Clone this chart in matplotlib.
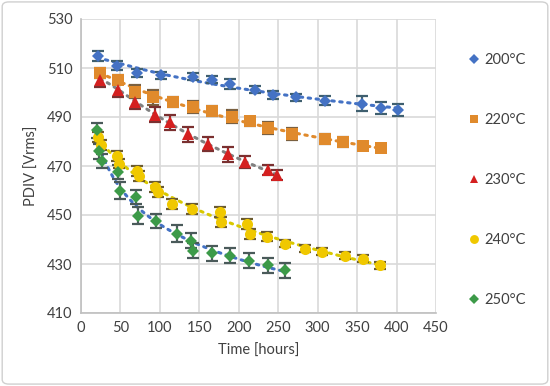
import numpy as np
import matplotlib
matplotlib.use("Agg")
import matplotlib.pyplot as plt
from matplotlib.patches import FancyBboxPatch

plt.rcParams['font.family'] = ['Lato', 'DejaVu Sans']

# ---- data ----
h200 = [21, 45, 71, 102, 142, 166, 189, 220, 243, 272, 309, 356, 380, 402]
v200 = [515, 511, 508, 507, 506.5, 505.3, 503.5, 501.2, 499, 498, 496.7, 495.5, 493.8, 493]
e200 = [2, 2, 1.5, 1.5, 1.5, 1.5, 2, 1.5, 1.5, 1.5, 2, 3, 2.5, 2.5]

h220 = [24, 47, 68, 91, 117, 142, 166, 191, 214, 237, 267, 309, 332, 357, 380]
v220 = [508, 505.3, 500.4, 498, 496, 494, 492.3, 490.2, 488.2, 485.4, 483, 481, 479.7, 478, 477.3]
e220 = [2, 2, 2.5, 3, 2, 2.5, 2, 2.5, 2, 2.5, 2.5, 2, 2, 1.5, 1.5]

h230 = [24, 47, 68, 94, 113, 136, 161, 186, 208, 237, 248]
v230 = [505.3, 501.2, 496.3, 491, 487.8, 483, 479, 474.8, 471.6, 468.3, 466.3]
e230 = [3, 3, 3, 3, 3, 3, 3, 3, 2.5, 2, 2]

h240 = [22, 25, 46, 48, 71, 73, 94, 97, 115, 141, 176, 177, 210, 214, 236, 259, 284, 305, 335, 357, 379]
v240 = [482, 478.5, 474, 471, 468, 466, 461.4, 459.5, 454.5, 452.5, 451.3, 447.2, 446.4, 442.4, 441.2, 438.3, 436.3, 435, 433.4, 432.2, 429.4]
e240 = [2, 2, 2, 2, 2, 2, 2, 2, 2, 2, 2, 2, 2, 2, 2, 1.5, 1.5, 1.5, 1.5, 1.5, 1.5]

h250 = [20, 23, 26, 47, 49, 70, 72, 95, 122, 140, 142, 166, 189, 213, 237, 259]
v250 = [484.5, 476, 472, 467.5, 460, 457.4, 449.7, 447.6, 442.4, 439.5, 435.5, 434.3, 433.4, 431.4, 429.4, 427.4]
e250 = [3, 3, 3, 3, 3.5, 3, 3.5, 3, 3.5, 3, 3, 3, 3, 3, 3, 3]

labels = ['200°C', '220°C', '230°C', '240°C', '250°C']
colors = ['#4472C4', '#E08A2C', '#D42020', '#F0C800', '#3C9A48']
trend_colors = ['#4472C4', '#E08A2C', '#808080', '#D8C800', '#4472C4']
markers = ['D', 's', '^', 'o', 'D']
msizes = [6.5, 8, 8, 8, 6.5]
err_colors = ['#3F5F6F', '#7A6040', '#7A3030', '#6A5A30', '#4A5A5A']

xticks = list(range(0, 451, 50))
yticks = list(range(410, 531, 20))

fig = plt.figure(figsize=(5.5, 3.86), dpi=100)
ax = fig.add_axes([81/550, 1-313/386, (436-81)/550, (313-19)/386])

series = [(h200, v200, e200), (h220, v220, e220), (h230, v230, e230),
          (h240, v240, e240), (h250, v250, e250)]

handles = []
for i, (h, v, e) in enumerate(series):
    h = np.array(h, float); v = np.array(v, float)
    ax.errorbar(h, v, yerr=e, fmt='none', ecolor=err_colors[i], elinewidth=1.6,
                capsize=4.5, capthick=1.6, zorder=3)
    # trendline
    lh = np.log(h)
    c = np.polyfit(lh, v, 2)
    xs = np.linspace(h.min(), h.max(), 200)
    ax.plot(xs, np.polyval(c, np.log(xs)), linestyle=(0, (0.8, 1.8)), lw=2.2,
            color=trend_colors[i], zorder=2, dash_capstyle='round')
    ln, = ax.plot(h, v, linestyle='none', marker=markers[i], ms=msizes[i],
                  color=colors[i], markeredgewidth=0, zorder=4, label=labels[i])
    handles.append(ln)

ax.set_xlim(0, 450)
ax.set_ylim(410, 530)
ax.set_xticks(xticks)
ax.set_yticks(yticks)
ax.grid(True, color='#D9D9D9', lw=1.2)
ax.set_axisbelow(True)
for s in ['top', 'right']:
    ax.spines[s].set_visible(False)
for s in ['left', 'bottom']:
    ax.spines[s].set_color('#BFBFBF')
    ax.spines[s].set_linewidth(1.2)
ax.tick_params(length=0, labelsize=10.5, colors='#404040', pad=6)
ax.set_xlabel('Time [hours]', fontsize=10.5, color='#404040', labelpad=6)
ax.set_ylabel('PDIV [Vrms]', fontsize=10.5, color='#404040', labelpad=6)

leg = fig.legend(handles=handles, labels=labels, loc='center left',
                 bbox_to_anchor=(456/550, 1-180/386), frameon=False,
                 fontsize=10.5, labelspacing=3.15, handlelength=0.7,
                 handletextpad=0.35, markerscale=0.8, labelcolor='#404040')

border = FancyBboxPatch((0.004, 0.005), 0.992, 0.99, boxstyle='round,pad=0,rounding_size=0.012',
                        transform=fig.transFigure, fill=False, edgecolor='#D0D0D0', lw=1)
fig.patches.append(border)

fig.savefig('out.png', dpi=100)
